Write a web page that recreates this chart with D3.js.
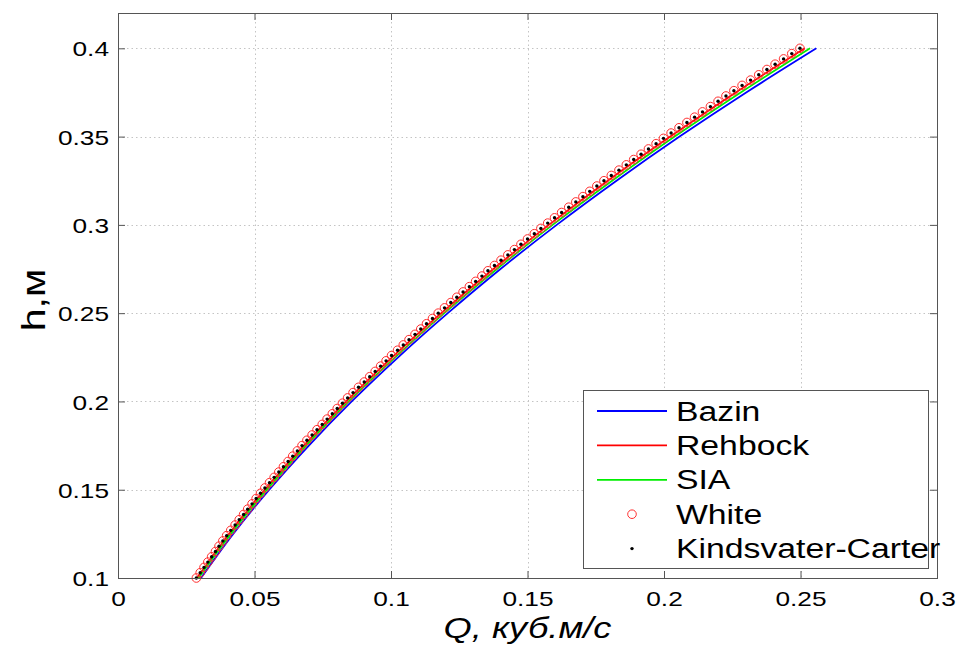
<!DOCTYPE html>
<html><head><meta charset="utf-8">
<script src="https://cdn.jsdelivr.net/npm/d3@7"></script>
<style>
html,body{margin:0;padding:0;background:#fff;}
svg{display:block;}
text{font-family:"Liberation Sans",Arial,Helvetica,sans-serif;fill:#000;}
</style></head>
<body>
<svg id="chart" width="960" height="646"></svg>
<script>
// ---- data ----
const markerH = [0.1,0.103,0.106,0.109,0.112,0.115,0.118,0.121,0.124,0.127,0.13,0.133,0.136,0.139,0.142,0.145,0.148,0.151,0.154,0.157,0.16,0.163,0.166,0.169,0.172,0.175,0.178,0.181,0.184,0.187,0.19,0.193,0.196,0.199,0.202,0.205,0.208,0.211,0.214,0.217,0.22,0.223,0.226,0.229,0.232,0.235,0.238,0.241,0.244,0.247,0.25,0.253,0.256,0.259,0.262,0.265,0.268,0.271,0.274,0.277,0.28,0.283,0.286,0.289,0.292,0.295,0.298,0.301,0.304,0.307,0.31,0.313,0.316,0.319,0.322,0.325,0.328,0.331,0.334,0.337,0.34,0.343,0.346,0.349,0.352,0.355,0.358,0.361,0.364,0.367,0.37,0.373,0.376,0.379,0.382,0.385,0.388,0.391,0.394,0.397,0.4];
const whiteQ = [0.0287,0.0301,0.0315,0.0329,0.0343,0.0357,0.0370,0.0384,0.0398,0.0413,0.0429,0.0444,0.0460,0.0475,0.0491,0.0506,0.0522,0.0538,0.0555,0.0572,0.0589,0.0606,0.0623,0.0640,0.0657,0.0674,0.0692,0.0711,0.0729,0.0748,0.0766,0.0785,0.0803,0.0822,0.0841,0.0861,0.0881,0.0902,0.0922,0.0942,0.0962,0.0982,0.1002,0.1024,0.1045,0.1066,0.1088,0.1109,0.1130,0.1152,0.1173,0.1196,0.1219,0.1241,0.1264,0.1287,0.1310,0.1333,0.1355,0.1379,0.1403,0.1428,0.1452,0.1476,0.1500,0.1525,0.1549,0.1574,0.1599,0.1625,0.1651,0.1677,0.1703,0.1728,0.1754,0.1780,0.1807,0.1835,0.1862,0.1889,0.1916,0.1943,0.1971,0.1998,0.2026,0.2055,0.2084,0.2112,0.2141,0.2170,0.2198,0.2227,0.2256,0.2286,0.2317,0.2347,0.2377,0.2407,0.2438,0.2468,0.2498];
const kindsvaterQ = [0.0287,0.0301,0.0315,0.0329,0.0343,0.0357,0.0370,0.0384,0.0398,0.0413,0.0429,0.0444,0.0460,0.0475,0.0491,0.0506,0.0522,0.0538,0.0555,0.0572,0.0589,0.0606,0.0623,0.0640,0.0657,0.0674,0.0692,0.0711,0.0729,0.0748,0.0766,0.0785,0.0803,0.0822,0.0841,0.0861,0.0881,0.0902,0.0922,0.0942,0.0962,0.0982,0.1002,0.1024,0.1045,0.1066,0.1088,0.1109,0.1130,0.1152,0.1173,0.1196,0.1219,0.1241,0.1264,0.1287,0.1310,0.1333,0.1355,0.1379,0.1403,0.1428,0.1452,0.1476,0.1500,0.1525,0.1549,0.1574,0.1599,0.1625,0.1651,0.1677,0.1703,0.1728,0.1754,0.1780,0.1807,0.1835,0.1862,0.1889,0.1916,0.1943,0.1971,0.1998,0.2026,0.2055,0.2084,0.2112,0.2141,0.2170,0.2198,0.2227,0.2256,0.2286,0.2317,0.2347,0.2377,0.2407,0.2438,0.2468,0.2498];
const lineH     = [0.1,0.125,0.15,0.175,0.2,0.225,0.25,0.275,0.3,0.325,0.35,0.375,0.4];
const bazinQ    = [0.0304,0.0422,0.0554,0.0699,0.0856,0.1026,0.1208,0.1401,0.1607,0.1826,0.2057,0.2301,0.2558];
const rehbockQ  = [0.0290,0.0407,0.0538,0.0681,0.0836,0.1004,0.1184,0.1375,0.1578,0.1794,0.2023,0.2263,0.2516];
const siaQ      = [0.0295,0.0413,0.0545,0.0689,0.0845,0.1015,0.1195,0.1388,0.1592,0.1810,0.2039,0.2281,0.2535];
const seriesNames = ["Bazin","Rehbock","SIA","White","Kindsvater-Carter"];
const xTicks = [0,0.05,0.1,0.15,0.2,0.25,0.3];
const xTickLabels = ["0","0.05","0.1","0.15","0.2","0.25","0.3"];
const yTicks = [0.1,0.15,0.2,0.25,0.3,0.35,0.4];
const yTickLabels = ["0.1","0.15","0.2","0.25","0.3","0.35","0.4"];
const xTitle = "Q, куб.м/с";
const yTitle = "h,м";

// ---- layout ----
const L = 118, R = 937, T = 13, B = 578;
const SX = 1.25; // horizontal stretch of glyphs in reference
const svg = d3.select("#chart");
const x = d3.scaleLinear().domain([0,0.3]).range([L,R]);
const y = d3.scaleLinear().domain([0.1,0.42]).range([B,T]);

// grid
const grid = svg.append("g").attr("stroke","#c4c4c4").attr("stroke-width",1).attr("stroke-dasharray","1.5,3");
grid.selectAll(".gx").data(xTicks.slice(1,-1)).join("line")
  .attr("x1",d=>Math.round(x(d))+0.5).attr("x2",d=>Math.round(x(d))+0.5).attr("y1",T).attr("y2",B);
grid.selectAll(".gy").data(yTicks.slice(1)).join("line")
  .attr("y1",d=>Math.round(y(d))+0.5).attr("y2",d=>Math.round(y(d))+0.5).attr("x1",L).attr("x2",R);

// lines
const line = d3.line().x(d=>x(d[1])).y(d=>y(d[0])).curve(d3.curveMonotoneY);
const lineSeries = [
  {name:"Bazin", q:bazinQ, color:"#0000ff"},
  {name:"Rehbock", q:rehbockQ, color:"#ff0000"},
  {name:"SIA", q:siaQ, color:"#00ee00"}
];
lineSeries.forEach(s=>{
  svg.append("path").datum(lineH.map((h,i)=>[h,s.q[i]]))
    .attr("fill","none").attr("stroke",s.color).attr("stroke-width",1.8).attr("d",line);
});

// White markers
svg.append("g").selectAll("circle").data(markerH.map((h,i)=>[h,whiteQ[i]])).join("circle")
  .attr("cx",d=>x(d[1])).attr("cy",d=>y(d[0])).attr("r",4.3)
  .attr("fill","none").attr("stroke","#ff3030").attr("stroke-width",1);
// Kindsvater-Carter dots
svg.append("g").selectAll("circle").data(markerH.map((h,i)=>[h,kindsvaterQ[i]])).join("circle")
  .attr("cx",d=>x(d[1])).attr("cy",d=>y(d[0])).attr("r",1.7).attr("fill","#000");

// axes
const fontTick = 21;
const axB = svg.append("g").attr("transform",`translate(0,${B})`)
  .call(d3.axisBottom(x).tickValues(xTicks).tickFormat((d,i)=>xTickLabels[i]).tickSize(-7).tickPadding(0));
const axT = svg.append("g").attr("transform",`translate(0,${T})`)
  .call(d3.axisTop(x).tickValues(xTicks).tickFormat("").tickSize(-7));
const axL = svg.append("g").attr("transform",`translate(${L},0)`)
  .call(d3.axisLeft(y).tickValues(yTicks).tickFormat((d,i)=>yTickLabels[i]).tickSize(-7).tickPadding(0));
const axR = svg.append("g").attr("transform",`translate(${R},0)`)
  .call(d3.axisRight(y).tickValues(yTicks).tickFormat("").tickSize(-7));
[axB,axT,axL,axR].forEach(a=>{
  a.select(".domain").remove();
  a.selectAll(".tick line").attr("stroke","#555");
});
axB.selectAll(".tick text").attr("x",null).attr("y",null).attr("dy",null)
  .attr("font-size",fontTick).attr("fill","#000").attr("text-anchor","middle")
  .attr("transform",`translate(0,28) scale(${SX},1)`);
axL.selectAll(".tick text").attr("x",null).attr("dy","0.36em")
  .attr("font-size",fontTick).attr("fill","#000").attr("text-anchor","end")
  .attr("transform",`translate(-9,0) scale(${SX},1)`);

// frame
svg.append("rect").attr("x",L+0.5).attr("y",T+0.5).attr("width",R-L).attr("height",B-T)
  .attr("fill","none").attr("stroke","#555").attr("stroke-width",1);

// titles
svg.append("text").text(xTitle).attr("font-size",29).attr("font-style","italic")
  .attr("text-anchor","middle")
  .attr("transform",`translate(${(L+R)/2},638) scale(${SX},1)`);
svg.append("text").text(yTitle).attr("font-size",33).attr("text-anchor","middle")
  .attr("transform",`translate(45,300) scale(1,1.25) rotate(-90)`);

// legend
const lg = svg.append("g");
lg.append("rect").attr("x",583.5).attr("y",390.5).attr("width",345).attr("height",178)
  .attr("fill","#fff").attr("stroke","#555").attr("stroke-width",1);
const rowY = i => 411 + i*34.4;
seriesNames.forEach((name,i)=>{
  const cy = rowY(i);
  if(i<3){
    lg.append("line").attr("x1",597).attr("x2",667).attr("y1",cy).attr("y2",cy)
      .attr("stroke",lineSeries[i].color).attr("stroke-width",1.8);
  } else if(i===3){
    lg.append("circle").attr("cx",632).attr("cy",cy).attr("r",4.3)
      .attr("fill","none").attr("stroke","#ff3030").attr("stroke-width",1);
  } else {
    lg.append("circle").attr("cx",632).attr("cy",cy).attr("r",1.7).attr("fill","#000");
  }
  lg.append("text").text(name).attr("font-size",27)
    .attr("transform",`translate(676,${cy+9.5}) scale(${SX},1)`);
});
</script>
</body></html>
